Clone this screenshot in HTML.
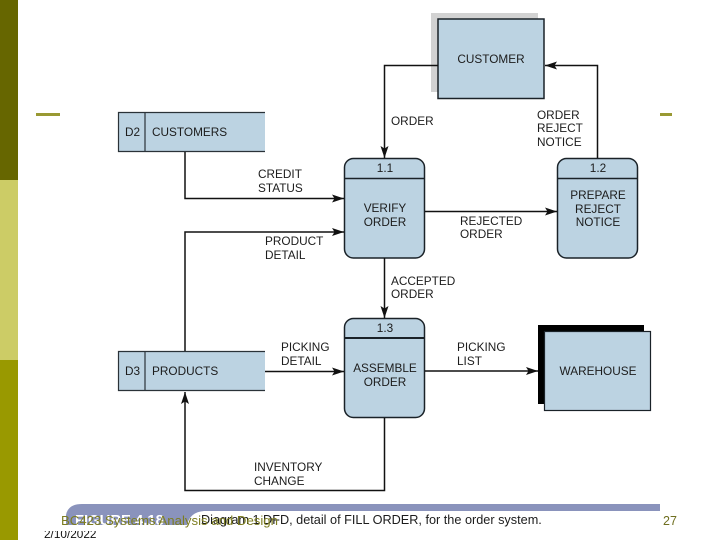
<!DOCTYPE html>
<html>
<head>
<meta charset="utf-8">
<style>
html,body{margin:0;padding:0;background:#fff;}
body{width:720px;height:540px;overflow:hidden;position:relative;}
svg{position:absolute;left:0;top:0;filter:blur(0.35px);}
text{font-family:"Liberation Sans",sans-serif;font-size:11.8px;fill:#1c1c1c;}
.c{text-anchor:middle;}
</style>
</head>
<body>
<svg width="720" height="540" viewBox="0 0 720 540">
<defs>
<marker id="a" markerUnits="userSpaceOnUse" markerWidth="14" markerHeight="10" refX="12" refY="4" orient="auto">
<path d="M0 0L12 4L0 8L2.5 4Z" fill="#111"/>
</marker>
<clipPath id="dateclip"><rect x="40" y="531" width="70" height="9"/></clipPath>
</defs>
<!-- sidebar -->
<rect x="0" y="0" width="18" height="180" fill="#666600"/>
<rect x="0" y="180" width="18" height="180" fill="#cccc66"/>
<rect x="0" y="360" width="18" height="180" fill="#999900"/>
<rect x="36" y="113" width="24" height="3" fill="#999933"/>
<rect x="660" y="113" width="12" height="3" fill="#999933"/>

<!-- customer -->
<rect x="431" y="13" width="107" height="79" fill="#d2d2d2"/>
<rect x="438" y="19" width="106" height="79.500" fill="#bcd3e2" stroke="#1a2228" stroke-width="1.500"/>
<text class="c" x="491" y="63">CUSTOMER</text>

<!-- D2 -->
<rect x="118" y="112" width="147" height="40" fill="#bcd3e2"/>
<path d="M265 112.500H118.500V151.500H265M145 112.500V151.500" fill="none" stroke="#2a3238" stroke-width="1.200"/>
<text x="125" y="136">D2</text>
<text x="152" y="136">CUSTOMERS</text>

<!-- D3 -->
<rect x="118" y="351" width="147" height="40" fill="#bcd3e2"/>
<path d="M265 351.500H118.500V390.500H265M145 351.500V390.500" fill="none" stroke="#2a3238" stroke-width="1.200"/>
<text x="125" y="375">D3</text>
<text x="152" y="375">PRODUCTS</text>

<!-- processes -->
<g stroke="#1a2228" stroke-width="1.500" fill="#bcd3e2">
<rect x="344.500" y="158.500" width="80" height="99.500" rx="9"/>
<rect x="557.500" y="158.500" width="80" height="99.500" rx="9"/>
<rect x="344.500" y="318.500" width="80" height="99" rx="9"/>
<path d="M344.500 178.500H424.500M557.500 178.500H637.500" fill="none"/>
<path d="M344.500 338H424.500" fill="none" stroke-width="2"/>
</g>
<text class="c" x="385" y="172">1.1</text>
<text class="c" x="385" y="212">VERIFY</text>
<text class="c" x="385" y="226">ORDER</text>
<text class="c" x="598" y="172">1.2</text>
<text class="c" x="598" y="199">PREPARE</text>
<text class="c" x="598" y="213">REJECT</text>
<text class="c" x="598" y="226">NOTICE</text>
<text class="c" x="385" y="332">1.3</text>
<text class="c" x="385" y="372">ASSEMBLE</text>
<text class="c" x="385" y="386">ORDER</text>

<!-- warehouse -->
<rect x="538" y="325" width="106" height="79" fill="#000"/>
<rect x="544.500" y="331.500" width="106" height="79" fill="#bcd3e2" stroke="#1a2228" stroke-width="1.200"/>
<text class="c" x="598" y="375">WAREHOUSE</text>

<!-- connectors -->
<g fill="none" stroke="#111" stroke-width="1.500">
<path d="M438 65.500H384.500V158" marker-end="url(#a)"/>
<path d="M597.500 158V65.500H545" marker-end="url(#a)"/>
<path d="M185 152V198.500H344" marker-end="url(#a)"/>
<path d="M185 351V232H344" marker-end="url(#a)"/>
<path d="M425 211.500H557" marker-end="url(#a)"/>
<path d="M384.500 258V318" marker-end="url(#a)"/>
<path d="M265 371.500H344" marker-end="url(#a)"/>
<path d="M425 371H538" marker-end="url(#a)"/>
<path d="M384.500 418V490.500H185V392" marker-end="url(#a)"/>
</g>

<!-- flow labels -->
<text x="391" y="125">ORDER</text>
<text x="537" y="119">ORDER</text>
<text x="537" y="132">REJECT</text>
<text x="537" y="146">NOTICE</text>
<text x="258" y="178">CREDIT</text>
<text x="258" y="192">STATUS</text>
<text x="265" y="245">PRODUCT</text>
<text x="265" y="259">DETAIL</text>
<text x="460" y="225">REJECTED</text>
<text x="460" y="238">ORDER</text>
<text x="391" y="285">ACCEPTED</text>
<text x="391" y="298">ORDER</text>
<text x="281" y="351">PICKING</text>
<text x="281" y="365">DETAIL</text>
<text x="457" y="351">PICKING</text>
<text x="457" y="365">LIST</text>
<text x="254" y="471">INVENTORY</text>
<text x="254" y="485">CHANGE</text>

<!-- caption band -->
<path d="M66 525V515Q68 504 82 504H660V511H204Q190 512 187 525Z" fill="#8a93bc"/>
<text x="75" y="525" style="font-size:14.8px;font-weight:bold;fill:#fff;">FIGURE 4.18</text>
<text x="201" y="524" style="font-size:12.7px;">Diagram 1 DFD, detail of FILL ORDER, for the order system.</text>

<!-- slide footer -->
<text x="61" y="525" style="font-size:13.2px;fill:#7d7d20;">BC423 Systems Analysis and Design</text>
<text x="44" y="538" clip-path="url(#dateclip)" style="font-size:11.800px;fill:#111;">2/10/2022</text>
<text x="663" y="525" style="font-size:12.500px;fill:#6f6f20;">27</text>
</svg>
</body>
</html>
